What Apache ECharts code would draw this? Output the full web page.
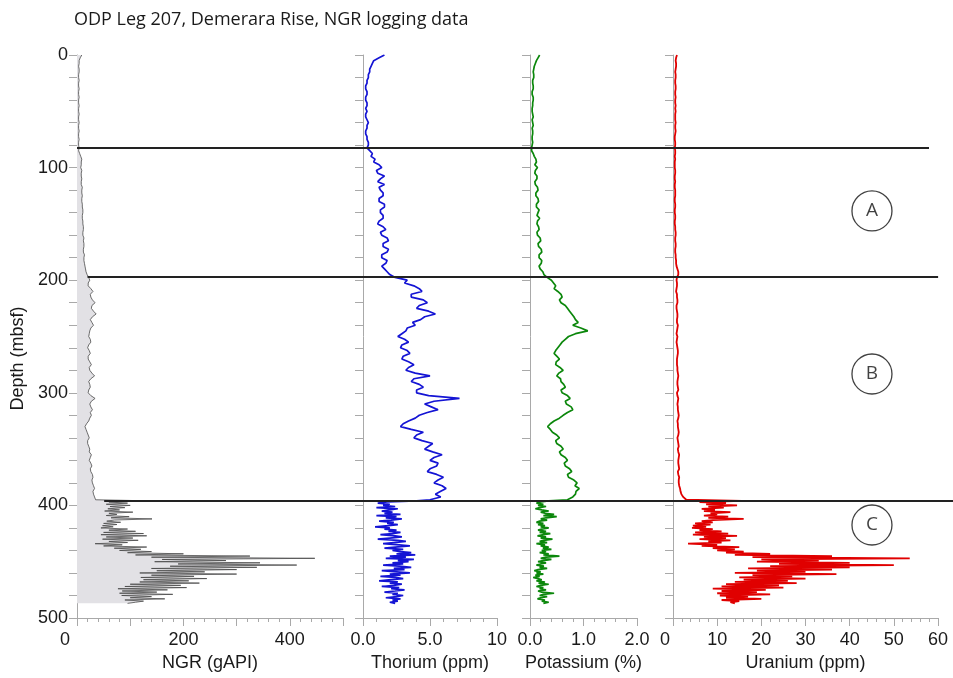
<!DOCTYPE html>
<html><head><meta charset="utf-8">
<script src="https://cdn.jsdelivr.net/npm/echarts@6/dist/echarts.min.js"></script>
<style>html,body{margin:0;padding:0;background:#fff}#c{width:953px;height:678px}</style>
</head><body><div id="c"></div>
<script>
// Depth samples (mbsf)
const depthUpper = [
0,2.5,5,7.5,10,12.5,15,17.5,20,22.5,
25,27.5,30,32.5,35,37.5,40,42.5,45,47.5,
50,52.5,55,57.5,60,62.5,65,67.5,70,72.5,
75,77.5,80,82.5,85,87.5,90,92.5,95,97.5,
100,102.5,105,107.5,110,112.5,115,117.5,120,122.5,
125,127.5,130,132.5,135,137.5,140,142.5,145,147.5,
150,152.5,155,157.5,160,162.5,165,167.5,170,172.5,
175,177.5,180,182.5,185,187.5,190,192.5,195,197.5,
200,202.5,205,207.5,210,212.5,215,217.5,220,222.5,
225,227.5,230,232.5,235,237.5,240,242.5,245,247.5,
250,252.5,255,257.5,260,262.5,265,267.5,270,272.5,
275,277.5,280,282.5,285,287.5,290,292.5,295,297.5,
300,302.5,305,307.5,310,312.5,315,317.5,320,322.5,
325,327.5,330,332.5,335,337.5,340,342.5,345,347.5,
350,352.5,355,357.5,360,362.5,365,367.5,370,372.5,
375,377.5,380,382.5,385,387.5,390,392.5,395];
const depthLower = [
396,397,398,399,400,401,402,403,404,405,
406,407,408,409,410,411,412,413,414,415,
416,417,418,419,420,421,422,423,424,425,
426,427,428,429,430,431,432,433,434,435,
436,437,438,439,440,441,442,443,444,445,
446,447,448,449,450,451,452,453,454,455,
456,457,458,459,460,461,462,463,464,465,
466,467,468,469,470,471,472,473,474,475,
476,477,478,479,480,481,482,483,484,485,
486,487];

// NGR (gAPI)
const ngrUpper = [
9,6,4,4,3,4,4,3,3,4,
3,3,4,3,3,4,3,3,4,3,
3,4,3,3,4,3,3,4,3,3,
4,3,3,4,3,5,7,9,8,8,
7,9,8,8,9,8,8,10,9,9,
10,9,9,10,10,11,11,10,10,11,
11,12,12,11,11,13,12,13,13,12,
12,14,13,13,14,15,16,17,19,22,
24,21,21,26,30,25,26,29,34,28,
27,31,36,29,25,28,31,26,24,23,
22,25,26,22,20,23,25,21,21,24,
27,23,24,28,33,26,22,24,25,22,
21,26,34,27,24,26,29,25,27,24,
22,18,15,17,19,21,23,20,20,22,
24,23,27,25,23,26,28,25,26,29,
30,28,29,31,33,30,31,33,35];
const ngrLower = [
141,60,95,55,100,62,90,58,80,52,
105,60,75,55,98,64,141,70,56,82,
50,75,48,68,45,95,60,110,50,125,
45,131,55,105,48,115,60,95,34,85,
50,131,70,120,80,140,95,200,110,325,
140,447,160,280,146,344,190,413,175,338,
140,300,150,240,118,300,140,220,120,244,
125,210,118,230,100,195,90,206,77,170,
85,150,80,180,84,140,100,165,90,125,
110,95];

// Thorium (ppm)
const thUpper = [
1.6,1.2,0.8,0.7,0.6,0.5,0.5,0.4,0.4,0.3,
0.3,0.2,0.2,0.3,0.3,0.2,0.2,0.3,0.3,0.2,
0.3,0.2,0.2,0.3,0.4,0.3,0.3,0.2,0.2,0.3,
0.3,0.4,0.4,0.3,0.5,0.7,0.6,0.9,0.8,1.2,
1.4,1.0,1.1,1.6,1.3,1.1,1.6,1.2,1.3,1.5,
1.5,1.2,1.2,1.6,1.6,1.3,1.3,1.5,1.5,1.2,
1.1,1.5,1.7,1.3,1.4,1.8,1.9,1.5,1.5,1.9,
1.8,1.4,1.4,1.8,1.7,1.4,1.6,1.8,2.0,2.4,
3.3,3.1,3.8,4.2,4.4,3.6,3.6,4.5,4.8,4.2,
4.0,4.9,5.4,4.6,4.3,3.7,3.9,3.3,3.2,2.9,
2.6,3.1,3.4,2.9,2.8,3.3,3.5,3.0,2.9,3.4,
3.8,3.4,3.2,3.9,5.0,3.8,3.6,4.2,4.5,4.0,
4.0,4.9,7.2,5.3,4.6,5.1,5.6,4.8,4.2,3.9,
3.4,3.0,2.8,3.6,4.5,4.0,3.8,4.4,5.2,4.9,
4.6,5.2,5.9,5.3,5.0,5.6,5.5,5.0,4.8,5.5,
6.0,5.6,5.3,5.9,6.2,5.8,5.4,5.8,5.0];
const thLower = [
4.0,1.8,1.1,2.0,1.5,2.4,1.0,2.6,2.0,1.4,
2.2,1.6,2.8,1.0,2.5,1.7,2.9,2.1,1.2,2.3,
1.8,2.6,1.9,0.9,2.0,1.6,2.5,1.9,2.8,2.2,
1.3,2.4,2.9,2.0,1.1,2.6,3.2,2.3,1.5,2.7,
3.5,2.4,1.6,3.0,2.2,2.8,3.6,2.5,3.9,2.0,
3.2,1.7,3.8,2.6,3.4,2.2,3.0,1.5,2.7,3.6,
2.3,3.1,1.4,2.5,3.5,2.0,2.8,1.3,2.4,3.0,
2.1,1.2,2.6,2.0,2.9,2.3,1.4,2.7,2.1,3.1,
2.4,1.6,2.6,2.2,3.0,2.5,1.7,2.8,2.2,2.6,
2.0,2.4];

// Potassium (%)
const kUpper = [
0.18,0.15,0.12,0.10,0.08,0.07,0.06,0.07,0.07,0.05,
0.05,0.06,0.06,0.04,0.04,0.06,0.06,0.05,0.05,0.04,
0.04,0.05,0.06,0.04,0.05,0.06,0.04,0.05,0.05,0.04,
0.04,0.05,0.04,0.03,0.03,0.06,0.08,0.11,0.12,0.09,
0.14,0.10,0.09,0.13,0.13,0.09,0.10,0.14,0.15,0.11,
0.11,0.15,0.16,0.12,0.12,0.17,0.15,0.13,0.18,0.14,
0.13,0.16,0.17,0.13,0.14,0.19,0.20,0.15,0.16,0.21,
0.22,0.17,0.17,0.22,0.21,0.17,0.19,0.24,0.26,0.32,
0.40,0.44,0.48,0.45,0.52,0.58,0.60,0.55,0.58,0.66,
0.70,0.74,0.78,0.82,0.85,0.90,0.80,0.95,1.08,0.85,
0.72,0.66,0.60,0.56,0.52,0.48,0.45,0.50,0.55,0.49,
0.48,0.56,0.62,0.54,0.50,0.57,0.58,0.63,0.66,0.58,
0.60,0.70,0.75,0.66,0.68,0.77,0.80,0.70,0.62,0.55,
0.45,0.38,0.33,0.38,0.42,0.50,0.55,0.48,0.50,0.58,
0.62,0.55,0.58,0.66,0.70,0.64,0.66,0.74,0.78,0.70,
0.72,0.82,0.88,0.84,0.92,0.86,0.85,0.80,0.70];
const kLower = [
0.35,0.20,0.12,0.25,0.15,0.30,0.18,0.10,0.22,0.35,
0.20,0.28,0.45,0.25,0.50,0.30,0.20,0.32,0.18,0.12,
0.25,0.15,0.28,0.20,0.35,0.22,0.15,0.30,0.18,0.38,
0.25,0.14,0.30,0.20,0.42,0.26,0.18,0.32,0.12,0.28,
0.20,0.35,0.24,0.40,0.22,0.30,0.18,0.35,0.25,0.55,
0.30,0.20,0.40,0.25,0.15,0.30,0.20,0.12,0.26,0.18,
0.32,0.15,0.08,0.20,0.12,0.25,0.10,0.18,0.06,0.15,
0.22,0.12,0.28,0.16,0.35,0.20,0.12,0.25,0.18,0.30,
0.15,0.22,0.45,0.25,0.18,0.32,0.20,0.14,0.28,0.22,
0.35,0.25];

// Uranium (ppm)
const uUpper = [
0.9,0.7,0.6,0.7,0.7,0.6,0.5,0.6,0.6,0.5,
0.5,0.6,0.6,0.5,0.5,0.6,0.5,0.5,0.6,0.5,
0.6,0.5,0.5,0.5,0.6,0.5,0.5,0.6,0.5,0.4,
0.4,0.5,0.5,0.4,0.5,0.5,0.4,0.5,0.4,0.4,
0.4,0.5,0.5,0.4,0.4,0.5,0.4,0.4,0.5,0.5,
0.5,0.4,0.4,0.5,0.5,0.4,0.4,0.5,0.5,0.4,
0.4,0.5,0.5,0.6,0.6,0.5,0.5,0.6,0.6,0.5,
0.5,0.6,0.6,0.7,0.7,0.8,1.0,1.2,1.2,0.9,
0.8,0.9,0.9,0.8,0.7,0.9,0.9,1.0,1.0,0.8,
0.8,0.9,1.0,1.0,0.9,0.9,1.1,1.0,0.9,0.8,
1.0,0.9,0.8,0.9,1.0,1.1,1.1,1.0,0.9,0.9,
0.9,1.0,1.0,1.1,1.2,1.1,1.0,1.0,1.1,1.2,
0.9,1.0,1.2,1.1,1.0,1.1,1.1,1.2,1.3,1.2,
1.0,1.1,1.1,1.2,1.3,1.2,1.0,1.1,1.2,1.3,
1.1,1.2,1.4,1.3,1.2,1.2,1.3,1.4,1.1,1.2,
1.4,1.3,1.3,1.4,1.6,1.7,1.9,2.3,3.0];
const uLower = [
15.6,6.0,12.0,7.5,14.5,8.0,11.5,6.5,9.5,7.0,
13.0,8.5,10.0,7.0,12.5,8.0,16.0,9.0,6.5,9.0,
5.0,8.5,4.5,7.5,4.3,9.0,6.0,11.0,5.0,12.5,
4.5,14.5,7.0,12.0,6.0,13.0,8.0,11.0,3.4,10.0,
6.5,15.0,9.0,14.0,10.0,16.0,12.0,22.0,14.0,36.0,
18.0,53.6,20.0,33.0,19.0,40.0,24.0,50.0,22.0,40.0,
17.0,36.0,19.0,30.0,14.0,37.0,18.0,27.0,15.0,30.0,
16.0,26.0,14.0,28.0,12.0,24.0,11.0,25.0,9.0,21.0,
11.0,19.0,10.0,22.0,10.6,17.0,12.0,20.0,11.0,15.0,
13.0,14.0];

// Unit boundaries (mbsf) and unit labels
const boundaryDepths = [82.6, 197.2, 396.1];
const unitLabels = ['A', 'B', 'C'];
const unitDepths = [138.5, 283.3, 417.4];

const depth = depthUpper.concat(depthLower);
const ngr = ngrUpper.concat(ngrLower);
const th = thUpper.concat(thLower);
const k = kUpper.concat(kLower);
const u = uUpper.concat(uLower);
const pairs = vals => vals.map((v, i) => [v, depth[i]]);

const FONT = '"Liberation Sans", Arial, sans-serif';
const AX = '#a9a9a9';
const TXT = '#1a1a1a';
const G = {top: 55, height: 563};

function xAx(idx, opts) {
  return Object.assign({
    type: 'value', gridIndex: idx, position: 'bottom',
    axisLine: {show: true, onZero: false, lineStyle: {color: AX, width: 1}},
    axisTick: {show: true, length: 8, lineStyle: {color: AX}},
    minorTick: {show: true, splitNumber: 5, length: 4, lineStyle: {color: AX}},
    splitLine: {show: false}, minorSplitLine: {show: false},
    axisLabel: {fontSize: 18, color: TXT, fontFamily: FONT, margin: 13},
    nameLocation: 'middle', nameGap: 31,
    nameTextStyle: {fontSize: 18, color: TXT, fontFamily: FONT}
  }, opts);
}
function yAx(idx, showLabels) {
  return {
    type: 'value', gridIndex: idx, min: 0, max: 500, interval: 20, inverse: true,
    axisLine: {show: true, onZero: false, lineStyle: {color: AX, width: 1}},
    axisTick: {show: true, length: 8, lineStyle: {color: AX}},
    splitLine: {show: false},
    axisLabel: {show: showLabels, fontSize: 18, color: TXT, fontFamily: FONT, margin: 9,
      formatter: v => (v % 100 === 0 ? String(v) : '')},
    name: showLabels ? 'Depth (mbsf)' : '',
    nameLocation: 'middle', nameGap: 50, nameRotate: 90,
    nameTextStyle: {fontSize: 18, color: TXT, fontFamily: FONT, padding: [0, 44, 0, 0]}
  };
}

const chart = echarts.init(document.getElementById('c'), null, {renderer: 'canvas'});
chart.setOption({
  animation: false,
  backgroundColor: '#fff',
  title: {
    text: 'ODP Leg 207, Demerara Rise, NGR logging data',
    left: 69, top: 6,
    textStyle: {fontFamily: '"Open Sans", sans-serif', fontSize: 18, fontWeight: 'normal', color: TXT}
  },
  grid: [
    Object.assign({left: 77, width: 266}, G),
    Object.assign({left: 363, width: 134}, G),
    Object.assign({left: 530, width: 107}, G),
    Object.assign({left: 673, width: 265}, G),
    Object.assign({left: 77, width: 876}, G)
  ],
  xAxis: [
    xAx(0, {min: 0, max: 500, interval: 100, name: 'NGR (gAPI)',
      axisLabel: {fontSize: 18, color: TXT, fontFamily: FONT, margin: 13,
        formatter: v => (v === 0 ? '{z|0}' : (v % 200 === 0 ? String(v) : '')),
        rich: {z: {fontSize: 18, color: TXT, fontFamily: FONT, padding: [0, 24, 0, 0]}}}}),
    xAx(1, {min: 0, max: 10, interval: 5, name: 'Thorium (ppm)',
      axisLabel: {fontSize: 18, color: TXT, fontFamily: FONT, margin: 13,
        formatter: v => (v === 10 ? '10' : v.toFixed(1))}}),
    xAx(2, {min: 0, max: 2, interval: 1, name: 'Potassium (%)',
      axisLabel: {fontSize: 18, color: TXT, fontFamily: FONT, margin: 13,
        formatter: v => v.toFixed(1)}}),
    xAx(3, {min: 0, max: 60, interval: 10, name: 'Uranium (ppm)',
      axisLabel: {fontSize: 18, color: TXT, fontFamily: FONT, margin: 13,
        formatter: v => (v === 0 ? '{z|0}' : String(v)),
        rich: {z: {fontSize: 18, color: TXT, fontFamily: FONT, padding: [0, 16, 0, 0]}}}}),
    {type: 'value', gridIndex: 4, min: 0, max: 1, show: false}
  ],
  yAxis: [
    yAx(0, true), yAx(1, false), yAx(2, false), yAx(3, false),
    {type: 'value', gridIndex: 4, min: 0, max: 500, inverse: true, show: false}
  ],
  series: [
    {
      type: 'custom', xAxisIndex: 0, yAxisIndex: 0, silent: true, z: 1,
      data: [[0, 0]],
      renderItem: (params, api) => {
        const pts = ngr.map((v, i) => api.coord([v, depth[i]]));
        pts.push(api.coord([0, depth[depth.length - 1]]));
        pts.push(api.coord([0, depth[0]]));
        return {type: 'polygon', shape: {points: pts}, style: {fill: '#e2e1e5', stroke: null}};
      }
    },
    {type: 'line', xAxisIndex: 0, yAxisIndex: 0, data: pairs(ngr), showSymbol: false, z: 2,
      lineStyle: {color: '#4a4a4a', width: 0.8}},
    {type: 'line', xAxisIndex: 1, yAxisIndex: 1, data: pairs(th), showSymbol: false,
      lineStyle: {color: '#1414d4', width: 1.7}},
    {type: 'line', xAxisIndex: 2, yAxisIndex: 2, data: pairs(k), showSymbol: false,
      lineStyle: {color: '#0b870b', width: 1.7}},
    {type: 'line', xAxisIndex: 3, yAxisIndex: 3, data: pairs(u), showSymbol: false,
      lineStyle: {color: '#e00000', width: 1.8}},
    {
      type: 'lines', coordinateSystem: 'cartesian2d', xAxisIndex: 4, yAxisIndex: 4,
      silent: true, z: 5,
      lineStyle: {color: '#222', width: 2, opacity: 1},
      data: [
        {coords: [[0, boundaryDepths[0]], [0.9726, boundaryDepths[0]]]},
        {coords: [[0.012, boundaryDepths[1]], [0.983, boundaryDepths[1]]]},
        {coords: [[0.031, boundaryDepths[2]], [1, boundaryDepths[2]]]}
      ]
    },
    {
      type: 'scatter', xAxisIndex: 4, yAxisIndex: 4, silent: true, z: 6,
      symbol: 'circle', symbolSize: 40,
      itemStyle: {color: '#fff', borderColor: '#111', borderWidth: 1.3},
      label: {show: true, position: 'inside', formatter: p => p.value[2],
        fontSize: 19, color: '#111', fontFamily: '"Open Sans", sans-serif'},
      data: unitLabels.map((t, i) => [0.9075, unitDepths[i], t])
    }
  ]
});
</script>
</body></html>
